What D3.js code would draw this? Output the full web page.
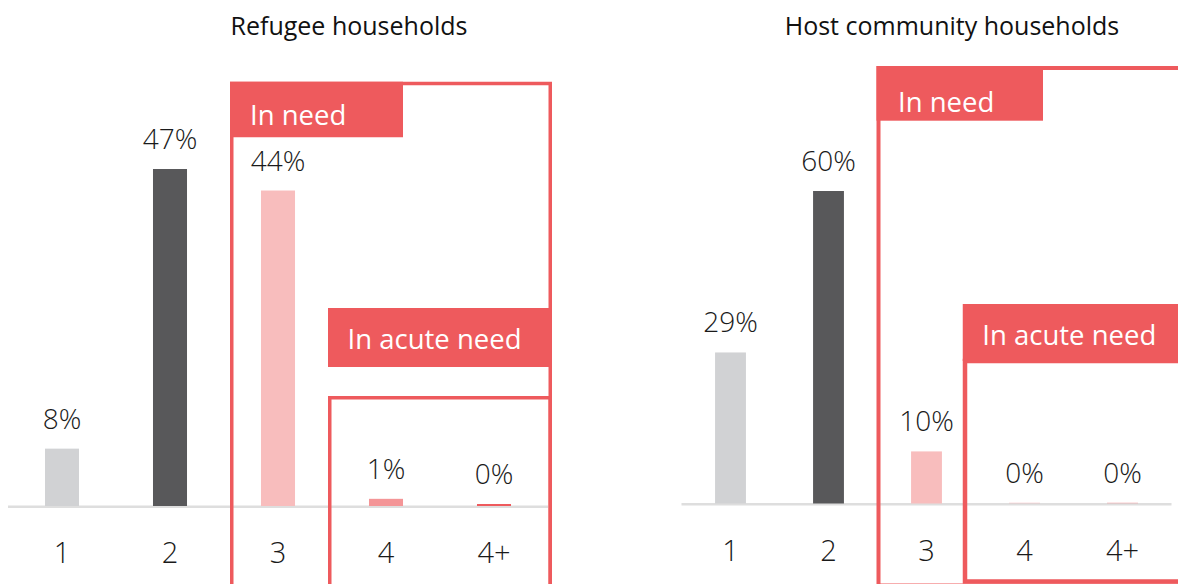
<!DOCTYPE html>
<html>
<head>
<meta charset="utf-8">
<script src="https://cdn.jsdelivr.net/npm/d3@7"></script>
<style>
  html, body { margin: 0; padding: 0; background: #ffffff; }
  svg { display: block; }
  .title { font-family: "Open Sans", "Noto Sans", sans-serif; font-size: 25px; fill: #111111; }
  .value { font-family: "Open Sans", "Noto Sans", sans-serif; font-weight: 300; font-size: 28px; fill: #1a1a1a; }
  .cat { font-family: "Open Sans", "Noto Sans", sans-serif; font-weight: 300; font-size: 29px; fill: #1a1a1a; }
  .tag { font-family: "Open Sans", "Noto Sans", sans-serif; font-size: 27.5px; fill: #ffffff; }
</style>
</head>
<body>
<svg id="chart" width="1178" height="584"></svg>
<script>
// Severity phases and share of households per phase
const categories = ["1", "2", "3", "4", "4+"];
const refugeeValues = [8, 47, 44, 1, 0];
const hostValues = [29, 60, 10, 0, 0];
const panelTitles = ["Refugee households", "Host community households"];
const tagLabels = ["In need", "In acute need"];
const barColors = ["#D1D2D4", "#58585A", "#F8BDBD", "#F49597", "#EE5A5D"];

const RED = "#EE5A5D";
const svg = d3.select("#chart");

// Panel layout: plot extent, value scale and annotation frames
const panels = [
  {
    title: panelTitles[0], values: refugeeValues,
    titleX: 349, xRange: [8, 548], baseline: 506, yMax: 50, yTopPx: 147.5,
    zeroStub: 2, zeroOpacity: 1,
    need:  { cat: "3", dx: -46.25, top: 83.5, right: 550.25, bottom: 640, sw: 3.5,
             tagW: 173, tagH: 55.5, textDx: 20, textY: 125 },
    acute: { cat: "4", dx: -56.25, top: 397.75, right: 550.25, bottom: 640, sw: 3.5,
             tagTop: 308, tagW: 224, tagH: 59, textDx: 19.5, textY: 349 }
  },
  {
    title: panelTitles[1], values: hostValues,
    titleX: 952, xRange: [681.5, 1171.5], baseline: 503.5, yMax: 60, yTopPx: 191,
    zeroStub: 1, zeroOpacity: 0.3,
    need:  { cat: "3", dx: -48, top: 68, right: 1190, bottom: 585.5, sw: 4,
             tagW: 166.5, tagH: 54.7, textDx: 21.5, textY: 111.7 },
    acute: { cat: "4", dx: -59.5, top: 361, right: 1190, bottom: 581.5, sw: 4.5,
             tagTop: 304, tagW: 230, tagH: 57, textDx: 19.5, textY: 345 }
  }
];

panels.forEach(p => {
  const g = svg.append("g");

  const x = d3.scaleBand()
    .domain(categories)
    .range(p.xRange)
    .paddingInner(0.685)
    .paddingOuter(0.3425);

  const y = d3.scaleLinear()
    .domain([0, p.yMax])
    .range([p.baseline, p.yTopPx]);

  const cx = c => x(c) + x.bandwidth() / 2;

  // Title
  g.append("text")
    .attr("class", "title")
    .attr("x", p.titleX)
    .attr("y", 35)
    .attr("text-anchor", "middle")
    .text(p.title);

  // Baseline
  g.append("line")
    .attr("x1", p.xRange[0]).attr("x2", p.xRange[1])
    .attr("y1", p.baseline + 0.75).attr("y2", p.baseline + 0.75)
    .attr("stroke", "#DEDEDE")
    .attr("stroke-width", 2.5);

  const rows = categories.map((c, i) => ({ cat: c, value: p.values[i], color: barColors[i] }));

  // Bars (zero values keep a thin stub on the baseline)
  g.selectAll("rect.bar")
    .data(rows)
    .join("rect")
    .attr("class", "bar")
    .attr("x", d => x(d.cat))
    .attr("width", x.bandwidth())
    .attr("y", d => Math.min(y(d.value), p.baseline - p.zeroStub))
    .attr("height", d => Math.max(p.baseline - y(d.value), p.zeroStub))
    .attr("fill", d => d.color)
    .attr("fill-opacity", d => d.value === 0 ? p.zeroOpacity : 1);

  // Value labels
  g.selectAll("text.value")
    .data(rows)
    .join("text")
    .attr("class", "value")
    .attr("x", d => cx(d.cat))
    .attr("y", d => Math.min(y(d.value), p.baseline - p.zeroStub) - 20)
    .attr("text-anchor", "middle")
    .text(d => d3.format("d")(d.value) + "%");

  // Category axis labels
  g.selectAll("text.cat")
    .data(rows)
    .join("text")
    .attr("class", "cat")
    .attr("x", d => cx(d.cat))
    .attr("y", p.baseline + 57)
    .attr("text-anchor", "middle")
    .text(d => d.cat);

  // "In need" frame and tag
  const n = p.need;
  const nLeft = cx(n.cat) + n.dx;
  g.append("rect")
    .attr("x", nLeft).attr("y", n.top)
    .attr("width", n.right - nLeft).attr("height", n.bottom - n.top)
    .attr("fill", "none").attr("stroke", RED).attr("stroke-width", n.sw);
  g.append("rect")
    .attr("x", nLeft - n.sw / 2).attr("y", n.top - n.sw / 2)
    .attr("width", n.tagW).attr("height", n.tagH)
    .attr("fill", RED);
  g.append("text")
    .attr("class", "tag")
    .attr("x", nLeft - n.sw / 2 + n.textDx)
    .attr("y", n.textY)
    .text(tagLabels[0]);

  // "In acute need" frame and tag
  const a = p.acute;
  const aLeft = cx(a.cat) + a.dx;
  g.append("rect")
    .attr("x", aLeft).attr("y", a.top)
    .attr("width", a.right - aLeft).attr("height", a.bottom - a.top)
    .attr("fill", "none").attr("stroke", RED).attr("stroke-width", a.sw);
  g.append("rect")
    .attr("x", aLeft - a.sw / 2).attr("y", a.tagTop)
    .attr("width", a.tagW).attr("height", a.tagH)
    .attr("fill", RED);
  g.append("text")
    .attr("class", "tag")
    .attr("x", aLeft - a.sw / 2 + a.textDx)
    .attr("y", a.textY)
    .text(tagLabels[1]);
});
</script>
</body>
</html>
